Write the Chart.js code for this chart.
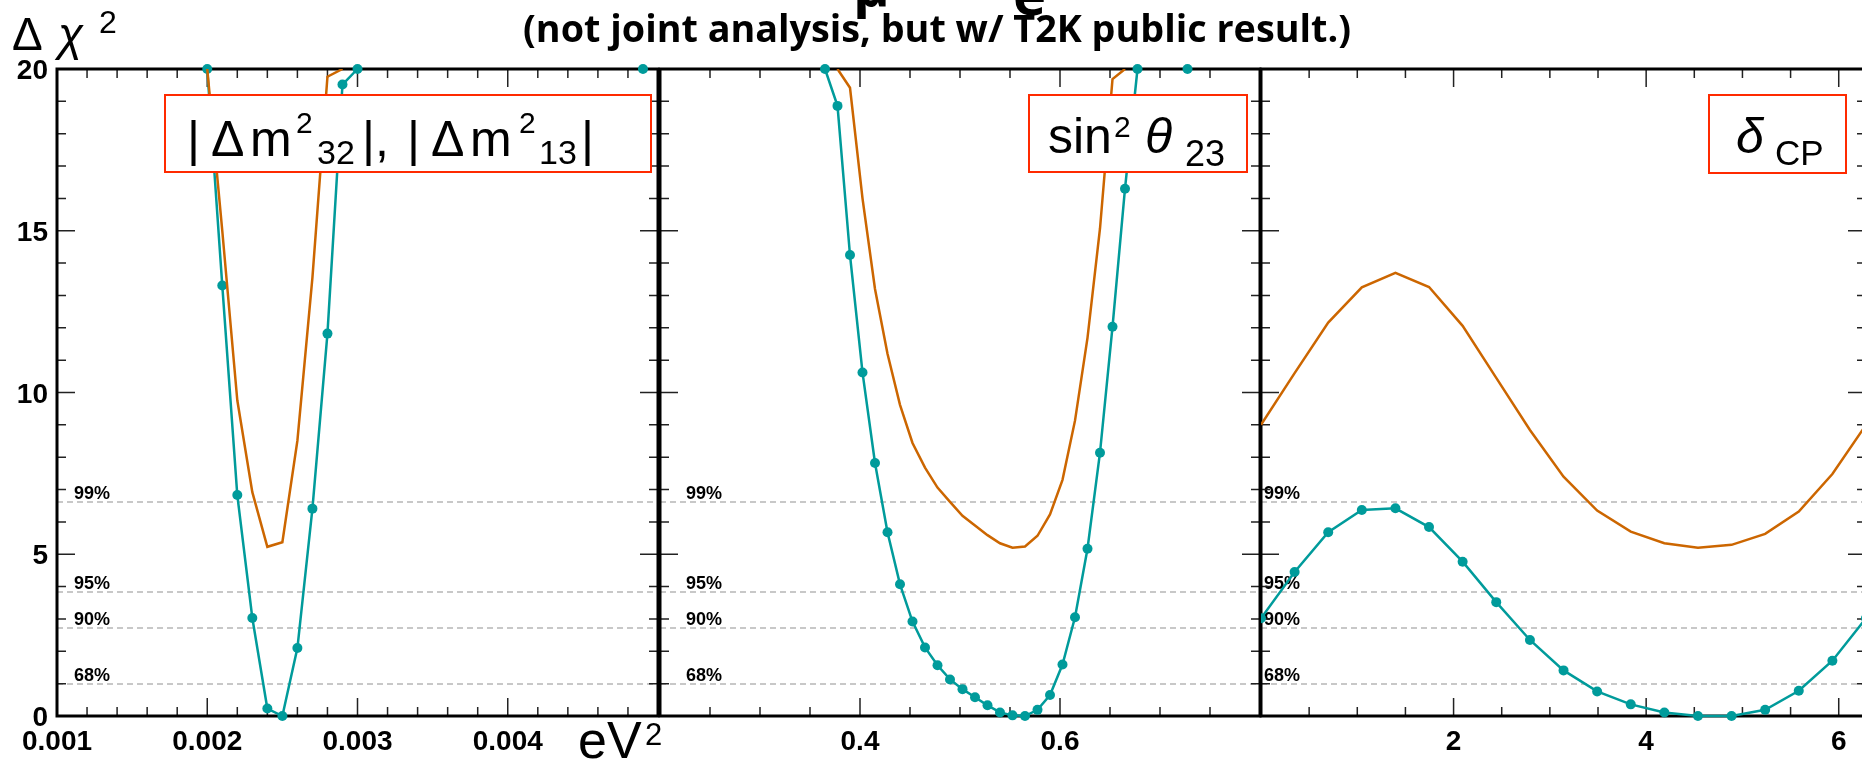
<!DOCTYPE html>
<html>
<head>
<meta charset="utf-8">
<title>Delta chi2 profiles</title>
<script src="https://cdn.jsdelivr.net/npm/chart.js@4.4.0/dist/chart.umd.min.js"></script>
<style>
  html, body { margin: 0; padding: 0; background: #fff; }
  #wrap { position: relative; width: 1862px; height: 760px; overflow: hidden; background: #fff; }
  #wrap canvas { position: absolute; left: 0; top: 0; }
</style>
</head>
<body>
<div id="wrap">
  <canvas id="c1" width="1900" height="760"></canvas>
  <canvas id="c2" width="1900" height="760"></canvas>
  <canvas id="c3" width="1900" height="760"></canvas>
</div>
<script>
/* ---- values ---- */
var yTickLabels = ['0', '5', '10', '15', '20'];
var clLevels = [1.0, 2.71, 3.84, 6.63];
var clNames = ['68%', '90%', '95%', '99%'];

// |dm2_32|, |dm2_13|  (eV^2)
var dm2X = [0.0020, 0.0021, 0.0022, 0.0023, 0.0024, 0.0025, 0.0026, 0.0027, 0.0028, 0.0029, 0.0030, 0.0049];
var dm2Teal = [20, 13.31, 6.83, 3.03, 0.23, 0.0, 2.10, 6.41, 11.82, 19.52, 20, 20];
var dm2OrangeX = [0.0020, 0.0021, 0.0022, 0.0023, 0.0024, 0.0025, 0.0026, 0.0027, 0.0028, 0.0029];
var dm2Orange = [20, 15.0, 9.76, 6.92, 5.23, 5.37, 8.51, 13.55, 19.76, 20];
var dm2TickLabels = ['0.001', '0.002', '0.003', '0.004'];

// sin^2 theta_23
var s23X = [0.365, 0.3775, 0.39, 0.4025, 0.415, 0.4275, 0.44, 0.4525, 0.465, 0.4775, 0.49, 0.5025, 0.515,
            0.5275, 0.54, 0.5525, 0.565, 0.5775, 0.59, 0.6025, 0.615, 0.6275, 0.64, 0.6525, 0.665, 0.6775, 0.7275];
var s23Teal = [20, 18.86, 14.25, 10.62, 7.82, 5.68, 4.07, 2.92, 2.12, 1.57, 1.13, 0.83, 0.58,
               0.33, 0.11, 0.02, 0.0, 0.19, 0.65, 1.59, 3.05, 5.17, 8.14, 12.03, 16.3, 20, 20];
var s23OrangeX = [0.3775, 0.39, 0.4025, 0.415, 0.4275, 0.44, 0.4525, 0.465, 0.4775, 0.49, 0.5025, 0.515,
                  0.5275, 0.54, 0.5525, 0.565, 0.5775, 0.59, 0.6025, 0.615, 0.6275, 0.64, 0.6525, 0.665];
var s23Orange = [20, 19.42, 16.0, 13.2, 11.2, 9.62, 8.44, 7.68, 7.06, 6.62, 6.19, 5.89,
                 5.59, 5.34, 5.20, 5.24, 5.57, 6.23, 7.30, 9.13, 11.69, 15.07, 19.69, 20];
var s23TickLabels = ['0.4', '0.6'];

// delta_CP
var dcpX = [0, 0.349, 0.698, 1.047, 1.396, 1.745, 2.094, 2.443, 2.793, 3.142, 3.491, 3.840,
            4.189, 4.538, 4.887, 5.236, 5.585, 5.934, 6.283];
var dcpTeal = [3.02, 4.45, 5.68, 6.37, 6.42, 5.84, 4.77, 3.52, 2.35, 1.41, 0.76, 0.36,
               0.11, 0.0, 0.0, 0.19, 0.78, 1.71, 3.02];
var dcpOrange = [9.0, 10.6, 12.16, 13.25, 13.70, 13.26, 12.06, 10.45, 8.84, 7.40, 6.35, 5.70,
                 5.34, 5.20, 5.29, 5.63, 6.32, 7.48, 9.0];
var dcpTickLabels = ['2', '4', '6'];

/* ---- look ---- */
var TEAL = '#009b9b';
var ORANGE = '#cc6600';
var RED = '#ff2a00';
var SANS = "'Liberation Sans', Arial, sans-serif";
var CANVAS_W = 1900;
var PLOT_TOP = 69, PLOT_BOTTOM = 716;

function pts(xs, ys) {
    return xs.map(function(x, i) { return { x: x, y: ys[i] }; });
}

// segments lying along the capped top edge are not drawn
var hideCapped = {
    borderColor: function(c) {
        return (c.p0.parsed.y >= 20 && c.p1.parsed.y >= 20) ? 'rgba(0,0,0,0)' : undefined;
    }
};

function txt(ctx, s, x, y, size, style, align) {
    ctx.font = (style || '') + ' ' + size + 'px ' + SANS;
    ctx.textAlign = align || 'left';
    ctx.fillText(s, x, y);
}

function headerTexts(ctx) {
    ctx.fillStyle = '#000';
    // y axis title
    txt(ctx, '\u0394', 12, 50, 46, '');
    txt(ctx, '\u03C7', 58, 50, 46, 'italic');
    txt(ctx, '2', 99, 33, 32, '');
    // x axis unit
    txt(ctx, 'eV', 578, 758, 52, '');
    txt(ctx, '2', 645, 745, 31, '');
    // cut-off main title remnants
    ctx.font = "bold 56px 'Open Sans', sans-serif";
    ctx.textAlign = 'left';
    ctx.fillText('\u03BC', 853, 6);
    ctx.fillText('e', 1013, 15);
    // subtitle
    var sub = '(not joint analysis, but w/ T2K public result.)';
    ctx.font = "bold 29px 'Open Sans', sans-serif";
    var w = ctx.measureText(sub).width;
    var size = 29 * 828 / w;
    ctx.font = 'bold ' + size.toFixed(2) + "px 'Open Sans', sans-serif";
    ctx.textAlign = 'center';
    ctx.fillText(sub, 937, 42);
}

var panels = {
    c1: {
        area: [57, 658], xmin: 0.001, xmax: 0.005, minor: 0.0002, perMajor: 5,
        labels: dm2TickLabels, clLabelX: 74, yLabels: true, header: true,
        teal: pts(dm2X, dm2Teal), orange: pts(dm2OrangeX, dm2Orange),
        box: {
            rect: [165, 95, 651, 172],
            parts: [
                ['|', 187, 156, 50], ['\u0394', 211, 156, 50], ['m', 250, 156, 50],
                ['2', 296, 133, 30], ['32', 317, 164, 34],
                ['|,', 362, 156, 50], ['|', 407, 156, 50], ['\u0394', 431, 156, 50], ['m', 470, 156, 50],
                ['2', 519, 133, 30], ['13', 539, 164, 34], ['|', 581, 156, 50]
            ]
        }
    },
    c2: {
        area: [660, 1260], xmin: 0.2, xmax: 0.8, minor: 0.05, perMajor: 4,
        labels: s23TickLabels, clLabelX: 686, yLabels: false, header: false,
        teal: pts(s23X, s23Teal), orange: pts(s23OrangeX, s23Orange),
        box: {
            rect: [1029, 95, 1247, 172],
            parts: [
                ['sin', 1048, 153, 50], ['2', 1114, 137, 30],
                ['\u03B8', 1145, 153, 50, 'italic'], ['23', 1185, 166, 36]
            ]
        }
    },
    c3: {
        area: [1261, 1866], xmin: 0, xmax: 6.2832, minor: 0.5, perMajor: 4,
        labels: dcpTickLabels, clLabelX: 1264, yLabels: false, header: false,
        teal: pts(dcpX, dcpTeal), orange: pts(dcpX, dcpOrange),
        box: {
            rect: [1709, 95, 1846, 173],
            parts: [
                ['\u03B4', 1736, 153, 50, 'italic'], ['CP', 1775, 165, 35]
            ]
        }
    }
};

var framePlugin = {
    id: 'rootFrame',
    beforeDatasetsDraw: function(chart) {
        var cfg = panels[chart.canvas.id];
        var ctx = chart.ctx, a = chart.chartArea;
        var xs = chart.scales.x, ys = chart.scales.y;
        ctx.save();

        // confidence level lines
        ctx.setLineDash([6, 4]);
        ctx.strokeStyle = '#c8c8c8';
        ctx.lineWidth = 2;
        clLevels.forEach(function(v) {
            var y = Math.round(ys.getPixelForValue(v));
            ctx.beginPath(); ctx.moveTo(a.left, y); ctx.lineTo(a.right, y); ctx.stroke();
        });
        ctx.setLineDash([]);
        ctx.fillStyle = '#000';
        ctx.textBaseline = 'alphabetic';
        clLevels.forEach(function(v, i) {
            txt(ctx, clNames[i], cfg.clLabelX, ys.getPixelForValue(v) - 3, 18, 'bold');
        });

        // inward ticks
        ctx.strokeStyle = '#222';
        ctx.lineWidth = 1.5;
        var n = Math.floor((cfg.xmax - cfg.xmin) / cfg.minor + 1e-6);
        for (var i = 0; i <= n; i++) {
            var x = xs.getPixelForValue(cfg.xmin + i * cfg.minor);
            var len = (i % cfg.perMajor === 0) ? 18 : 9;
            ctx.beginPath();
            ctx.moveTo(x, a.bottom); ctx.lineTo(x, a.bottom - len);
            ctx.moveTo(x, a.top); ctx.lineTo(x, a.top + len);
            ctx.stroke();
        }
        for (var k = 0; k <= 20; k++) {
            var y = ys.getPixelForValue(k);
            var l = (k % 5 === 0) ? 18 : 9;
            ctx.beginPath();
            ctx.moveTo(a.left, y); ctx.lineTo(a.left + l, y);
            ctx.moveTo(a.right, y); ctx.lineTo(a.right - l, y);
            ctx.stroke();
        }

        // frame
        ctx.strokeStyle = '#000';
        ctx.lineWidth = 3;
        ctx.strokeRect(a.left, a.top, a.right - a.left, a.bottom - a.top);

        // x tick labels
        cfg.labels.forEach(function(s) {
            txt(ctx, s, xs.getPixelForValue(parseFloat(s)), 750, 28, 'bold', 'center');
        });
        // y tick labels (first panel only)
        if (cfg.yLabels) {
            yTickLabels.forEach(function(s) {
                txt(ctx, s, 48, ys.getPixelForValue(parseFloat(s)) + 10, 28, 'bold', 'right');
            });
        }
        ctx.restore();
    },
    afterDraw: function(chart) {
        var cfg = panels[chart.canvas.id];
        var ctx = chart.ctx;
        ctx.save();
        ctx.textBaseline = 'alphabetic';
        // legend box
        var b = cfg.box;
        ctx.fillStyle = '#fff';
        ctx.fillRect(b.rect[0], b.rect[1], b.rect[2] - b.rect[0], b.rect[3] - b.rect[1]);
        ctx.strokeStyle = RED;
        ctx.lineWidth = 2;
        ctx.strokeRect(b.rect[0], b.rect[1], b.rect[2] - b.rect[0], b.rect[3] - b.rect[1]);
        ctx.fillStyle = '#000';
        b.parts.forEach(function(p) { txt(ctx, p[0], p[1], p[2], p[3], p[4]); });

        if (cfg.header) headerTexts(ctx);
        ctx.restore();
    }
};

Object.keys(panels).forEach(function(id) {
    var p = panels[id];
    new Chart(document.getElementById(id), {
        type: 'scatter',
        data: {
            datasets: [
                {
                    data: p.orange,
                    showLine: true,
                    borderColor: ORANGE,
                    borderWidth: 2.5,
                    pointRadius: 0,
                    segment: hideCapped
                },
                {
                    data: p.teal,
                    showLine: true,
                    borderColor: TEAL,
                    backgroundColor: TEAL,
                    borderWidth: 2.5,
                    pointRadius: 5,
                    pointBorderWidth: 0,
                    clip: { left: 0, right: 0, top: 8, bottom: 8 },
                    segment: hideCapped
                }
            ]
        },
        options: {
            responsive: false,
            animation: false,
            events: [],
            layout: {
                padding: { left: p.area[0], right: CANVAS_W - p.area[1], top: PLOT_TOP, bottom: 760 - PLOT_BOTTOM }
            },
            scales: {
                x: { type: 'linear', min: p.xmin, max: p.xmax, display: false },
                y: { type: 'linear', min: 0, max: 20, display: false }
            },
            plugins: {
                legend: { display: false },
                tooltip: { enabled: false }
            }
        },
        plugins: [framePlugin]
    });
});
</script>
</body>
</html>
